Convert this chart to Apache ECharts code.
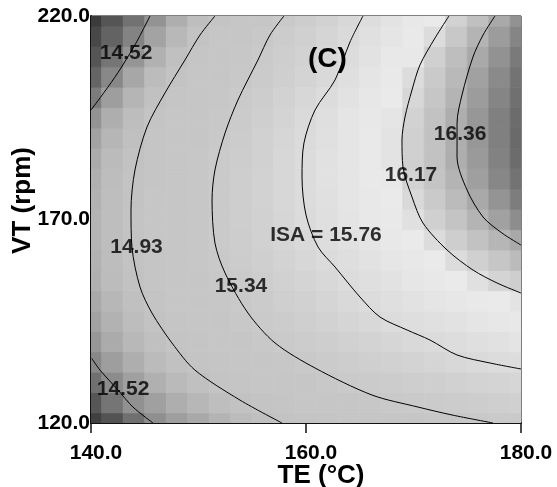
<!DOCTYPE html>
<html>
<head>
<meta charset="utf-8">
<script src="https://cdn.jsdelivr.net/npm/echarts@6/dist/echarts.min.js"></script>
<style>
  html, body { margin: 0; padding: 0; background: #fff; }
  #chart { width: 557px; height: 487px; }
</style>
</head>
<body>
<div id="chart"></div>
<script>
// ---- data ----
const teValues = [140,142,144,146,148,150,152,154,156,158,160,162,164,166,168,170,172,174,176,178,180];
const vtValues = [120,125,130,135,140,145,150,155,160,165,170,175,180,185,190,195,200,205,210,215,220];
// ISA estimated at each (TE, VT) node; one row per VT (from 120 to 220), one value per TE
const isaRows = [
  [14.15,14.26,14.40,14.53,14.60,14.66,14.73,14.80,14.87,14.93,14.98,15.02,15.06,15.10,15.14,15.19,15.23,15.27,15.31,15.35,15.37],
  [14.28,14.42,14.54,14.61,14.69,14.76,14.84,14.91,14.98,15.03,15.09,15.15,15.20,15.26,15.32,15.36,15.39,15.42,15.46,15.49,15.52],
  [14.40,14.52,14.61,14.70,14.78,14.87,14.95,15.02,15.08,15.15,15.22,15.29,15.35,15.39,15.43,15.47,15.51,15.55,15.59,15.62,15.66],
  [14.50,14.60,14.69,14.79,14.88,14.97,15.04,15.12,15.19,15.27,15.34,15.39,15.44,15.49,15.54,15.59,15.64,15.69,15.74,15.77,15.80],
  [14.57,14.67,14.77,14.86,14.96,15.04,15.13,15.21,15.30,15.37,15.42,15.48,15.54,15.59,15.65,15.71,15.76,15.80,15.84,15.87,15.91],
  [14.62,14.72,14.82,14.92,15.01,15.10,15.19,15.28,15.36,15.43,15.50,15.57,15.63,15.70,15.77,15.81,15.85,15.89,15.93,15.98,16.02],
  [14.66,14.76,14.87,14.97,15.07,15.16,15.25,15.34,15.41,15.49,15.56,15.64,15.71,15.78,15.83,15.88,15.93,15.98,16.03,16.08,16.13],
  [14.70,14.80,14.91,15.01,15.10,15.20,15.30,15.38,15.46,15.54,15.61,15.69,15.77,15.83,15.89,15.96,16.02,16.08,16.14,16.19,16.22],
  [14.72,14.81,14.93,15.03,15.13,15.24,15.34,15.42,15.50,15.59,15.67,15.75,15.82,15.89,15.96,16.02,16.09,16.16,16.21,16.26,16.31],
  [14.73,14.83,14.94,15.05,15.15,15.26,15.36,15.45,15.54,15.63,15.72,15.80,15.87,15.94,16.01,16.09,16.16,16.22,16.28,16.33,16.38],
  [14.73,14.84,14.95,15.05,15.16,15.27,15.37,15.47,15.56,15.66,15.75,15.83,15.91,15.99,16.06,16.14,16.21,16.27,16.34,16.41,16.49],
  [14.72,14.83,14.94,15.05,15.16,15.27,15.37,15.47,15.57,15.67,15.77,15.85,15.93,16.01,16.09,16.17,16.24,16.31,16.38,16.46,16.55],
  [14.70,14.81,14.93,15.04,15.15,15.26,15.37,15.47,15.57,15.68,15.77,15.86,15.94,16.03,16.11,16.20,16.27,16.34,16.42,16.51,16.59],
  [14.67,14.79,14.91,15.02,15.13,15.24,15.35,15.46,15.56,15.67,15.77,15.86,15.95,16.04,16.13,16.21,16.28,16.36,16.44,16.53,16.62],
  [14.62,14.75,14.87,14.99,15.10,15.21,15.32,15.43,15.54,15.65,15.76,15.85,15.94,16.04,16.13,16.21,16.28,16.36,16.45,16.54,16.63],
  [14.55,14.69,14.82,14.95,15.06,15.17,15.28,15.40,15.51,15.62,15.73,15.83,15.93,16.02,16.12,16.20,16.28,16.36,16.45,16.54,16.62],
  [14.45,14.60,14.74,14.88,15.01,15.12,15.24,15.35,15.46,15.57,15.67,15.78,15.88,15.98,16.08,16.18,16.26,16.34,16.43,16.52,16.60],
  [14.35,14.50,14.65,14.80,14.94,15.06,15.18,15.30,15.41,15.51,15.62,15.72,15.83,15.94,16.05,16.16,16.24,16.32,16.41,16.50,16.59],
  [14.27,14.42,14.56,14.71,14.86,15.00,15.12,15.24,15.36,15.47,15.57,15.68,15.78,15.89,16.00,16.11,16.21,16.30,16.38,16.47,16.56],
  [14.20,14.34,14.48,14.63,14.77,14.92,15.05,15.18,15.30,15.42,15.52,15.63,15.74,15.85,15.95,16.06,16.16,16.25,16.34,16.43,16.52],
  [14.12,14.27,14.41,14.55,14.69,14.83,14.96,15.09,15.22,15.34,15.46,15.57,15.69,15.80,15.90,16.00,16.10,16.20,16.29,16.38,16.47]
];

// contour lines: [TE, VT] points traced on the picture
const contour1452Top = [[145.49,220],[144.09,212.9],[142.51,206.1],[141.21,201.2],[140,196.9]];
const contour1452Bottom = [[140.06,135.9],[140.84,133.0],[142.51,128.1],[143.91,123.9],[145.77,120]];
const contour1493 = [[151.53,220],[150.14,215.33],[148.74,209.19],[146.88,201.08],[145.21,192.73],[144.09,182.16],[143.72,172.33],[143.81,163.24],[144.56,153.41],[145.67,147.03],[147.53,139.66],[149.67,133.0],[153.86,125.63],[157.77,120]];
const contour1534 = [[157.95,220],[156.65,215.33],[155.53,209.19],[153.67,199.36],[152.47,191.25],[151.53,182.16],[151.26,174.79],[151.53,164.23],[152.47,156.86],[154.60,147.03],[157.12,139.66],[160.84,133.51],[166.14,126.87],[170.42,123.92],[173.58,121.97],[177.40,120]];
const contour1576 = [[165.30,220],[164.09,213.61],[162.70,204.28],[160.84,196.90],[159.81,188.80],[159.63,180.44],[160.0,171.11],[161.12,163.24],[162.70,158.33],[165.02,150.96],[166.88,146.04],[169.40,142.85],[171.53,140.39],[174.05,136.71],[177.12,134.74],[180,133.27]];
const contour1617 = [[173.30,220],[172.0,214.59],[170.60,207.96],[169.86,201.82],[169.21,195.18],[168.93,189.53],[169.02,182.9],[169.86,175.53],[170.88,169.14],[173.12,162.51],[175.53,157.59],[177.77,154.40],[180,151.94]];
const contour1636 = [[177.58,220],[176.47,215.33],[175.53,209.93],[174.51,200.59],[174.05,193.71],[174.05,185.36],[174.98,177.25],[176.47,170.61],[178.23,166.68],[180,163.73]];

// contour labels
const labelTexts = ['14.52','16.36','16.17','ISA = 15.76','14.93','15.34','14.52'];
const labelTE = [143.26,174.33,169.77,161.86,144.23,153.95,142.98];
const labelVT = [210.9,190.9,180.9,166.2,163.2,153.7,128.2];

// axis ticks
const xTicks = [140,160,180];
const yTicks = [120,170,220];

// ---- build chart ----
const FONT = "'Liberation Sans', Arial, Helvetica, sans-serif";
const cellData = [];
for (let r = 0; r < vtValues.length; r++) {
  for (let c = 0; c < teValues.length; c++) {
    cellData.push([teValues[c], vtValues[r], isaRows[r][c]]);
  }
}
const halfT = (teValues[1] - teValues[0]) / 2;
const halfV = (vtValues[1] - vtValues[0]) / 2;

// gray ramp from ISA 14.0 to 16.7 in steps of 0.1
const grayLevels = [0x30,0x38,0x48,0x5a,0x70,0x88,0x9e,0xb0,0xbc,0xc2,0xc5,0xc6,0xc6,0xc8,0xcb,0xcf,0xd3,0xd8,0xdd,0xe3,0xe8,0xea,0xd2,0xbe,0xa4,0x8a,0x70,0x5c];
const grayColors = grayLevels.map(g => 'rgb(' + g + ',' + g + ',' + g + ')');

const contourList = [contour1452Top, contour1452Bottom, contour1493, contour1534, contour1576, contour1617, contour1636];
const contourSeries = contourList.map(pts => ({
  type: 'line',
  data: pts,
  smooth: 0.3,
  symbol: 'none',
  silent: true,
  z: 3,
  lineStyle: { color: '#000', width: 1 }
}));

const chart = echarts.init(document.getElementById('chart'), null, { renderer: 'canvas' });
chart.setOption({
  animation: false,
  backgroundColor: '#fff',
  title: {
    text: '(C)',
    left: 303, top: 40,
    textStyle: { fontFamily: FONT, fontWeight: 'bold', fontSize: 28, color: '#000' }
  },
  grid: { left: 91, right: 36, top: 16, bottom: 64, outerBoundsMode: 'none', containLabel: false,
          show: true, borderColor: '#000', borderWidth: 1, backgroundColor: 'transparent' },
  visualMap: {
    show: false,
    type: 'continuous',
    min: 14.0, max: 16.7,
    dimension: 2,
    seriesIndex: 0,
    inRange: { color: grayColors }
  },
  xAxis: {
    type: 'value',
    min: xTicks[0], max: xTicks[xTicks.length - 1], interval: xTicks[1] - xTicks[0],
    name: 'TE (°C)', nameLocation: 'middle', nameGap: 40, nameMoveOverlap: false,
    nameTextStyle: { fontFamily: FONT, fontWeight: 'bold', fontSize: 26, color: '#000', padding: [0, 0, 0, 30] },
    axisLine: { show: true, onZero: false, lineStyle: { color: '#111', width: 2 } },
    axisTick: { show: true, length: 10, lineStyle: { color: '#111', width: 1.5 } },
    axisLabel: { margin: 20, fontFamily: FONT, fontWeight: 'bold', fontSize: 21, color: '#000',
                 padding: [0, 0, 0, 10], formatter: v => v.toFixed(1) },
    splitLine: { show: false }
  },
  yAxis: {
    type: 'value',
    min: yTicks[0], max: yTicks[yTicks.length - 1], interval: yTicks[1] - yTicks[0],
    name: 'VT (rpm)', nameLocation: 'middle', nameGap: 55, nameMoveOverlap: false,
    nameTextStyle: { fontFamily: FONT, fontWeight: 'bold', fontSize: 26, color: '#000', padding: [0, 0, 0, 38] },
    axisLine: { show: true, onZero: false, lineStyle: { color: '#111', width: 2 } },
    axisTick: { show: false },
    axisLabel: { margin: 1, fontFamily: FONT, fontWeight: 'bold', fontSize: 21, color: '#000',
                 padding: [6, 0, 0, 0], formatter: v => v.toFixed(1) },
    splitLine: { show: false }
  },
  series: [
    {
      type: 'custom',
      data: cellData,
      clip: true,
      silent: true,
      z: 1,
      renderItem: function (params, api) {
        const t = api.value(0), v = api.value(1);
        const p0 = api.coord([t - halfT, v + halfV]);
        const p1 = api.coord([t + halfT, v - halfV]);
        const col = api.visual('color');
        return {
          type: 'rect',
          shape: { x: p0[0], y: p0[1], width: p1[0] - p0[0], height: p1[1] - p0[1] },
          style: { fill: col, stroke: col, lineWidth: 0.8 }
        };
      }
    },
    ...contourSeries,
    {
      type: 'scatter',
      symbolSize: 0,
      silent: true,
      z: 5,
      data: labelTexts.map((t, i) => ({ name: t, value: [labelTE[i], labelVT[i]] })),
      label: {
        show: true, position: 'inside', formatter: p => p.name,
        fontFamily: FONT, fontWeight: 'bold', fontSize: 21, color: '#000'
      }
    }
  ]
});
</script>
</body>
</html>
